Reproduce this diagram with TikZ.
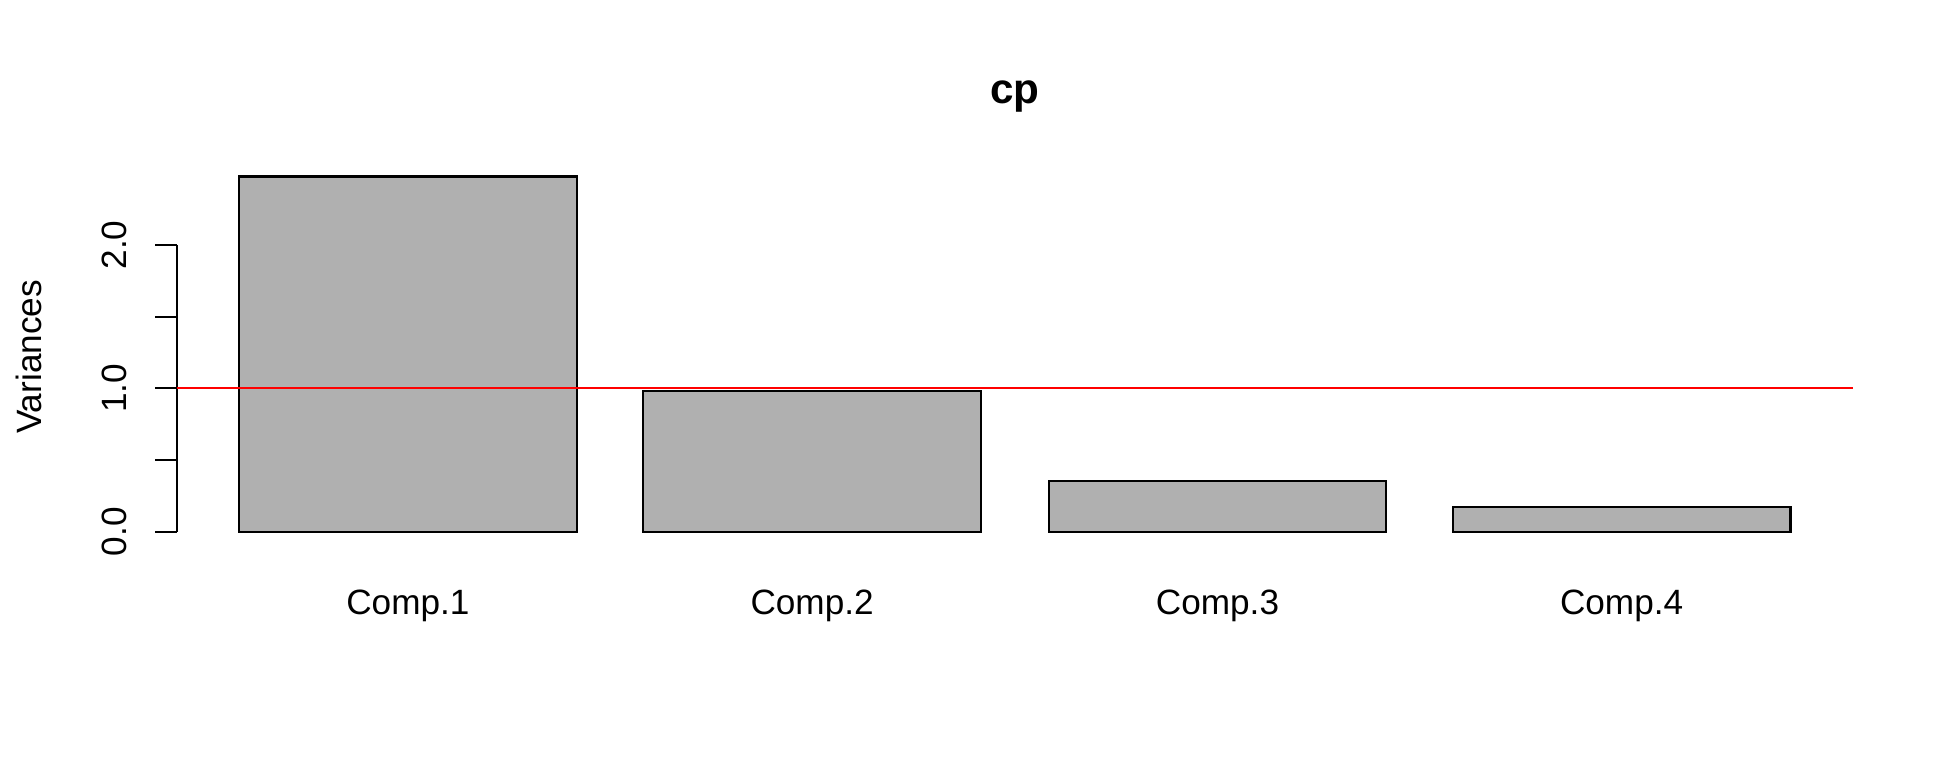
\documentclass[tikz,border=0pt]{standalone}
\usepackage{fontspec}
\setmainfont{Liberation Sans}
\definecolor{barGray}{RGB}{176,176,176}
\begin{document}
\begin{tikzpicture}[x=0.01cm, y=0.01cm, line width=0.6pt]
\tikzstyle{bar} = [rectangle, minimum width=3.375cm, inner sep=0pt, outer sep=0pt, draw=black, fill=barGray, anchor=south]
\tikzstyle{tickLabel} = [rotate=90, anchor=base, inner sep=0pt, font=\fontsize{10}{12}\selectfont]
\tikzstyle{compLabel} = [anchor=base, inner sep=0pt, font=\fontsize{10}{12}\selectfont]
\useasboundingbox (0,0) rectangle (1944,756);
% bars
\node (B1) at (407.9,224.3) [bar, minimum height=3.55cm] {};
\node (B2) at (812.1,224.3) [bar, minimum height=1.41cm] {};
\node (B3) at (1217.5,224.3) [bar, minimum height=0.51cm] {};
\node (B4) at (1621.6,224.3) [bar, minimum height=0.25cm] {};
\node (C1) at (407.9,142) [compLabel] {Comp.1};
\node (C2) at (812.1,142) [compLabel] {Comp.2};
\node (C3) at (1217.5,142) [compLabel] {Comp.3};
\node (C4) at (1621.6,142) [compLabel] {Comp.4};
% y axis
\coordinate (Y0) at (176.7,224.3);
\coordinate (Y1) at (176.7,296);
\coordinate (Y2) at (176.7,367.7);
\coordinate (Y3) at (176.7,439.3);
\coordinate (Y4) at (176.7,511);
\draw (Y0) -- (Y4);
\draw (Y0) -- ++(-21.7,0);
\draw (Y1) -- ++(-21.7,0);
\draw (Y2) -- ++(-21.7,0);
\draw (Y3) -- ++(-21.7,0);
\draw (Y4) -- ++(-21.7,0);
\node (L0) at (126.7,224.3) [tickLabel] {0.0};
\node (L2) at (126.7,367.7) [tickLabel] {1.0};
\node (L4) at (126.7,511) [tickLabel] {2.0};
\node (V) at (41.7,399) [tickLabel] {Variances};
% threshold
\coordinate (R0) at (176.7,367.7);
\coordinate (R1) at (1852.9,367.7);
\draw[red] (R0) -- (R1);
\node (T) at (1015,653) [anchor=base, inner sep=0pt, font=\fontsize{12}{14}\selectfont\bfseries] {cp};
\end{tikzpicture}
\end{document}
